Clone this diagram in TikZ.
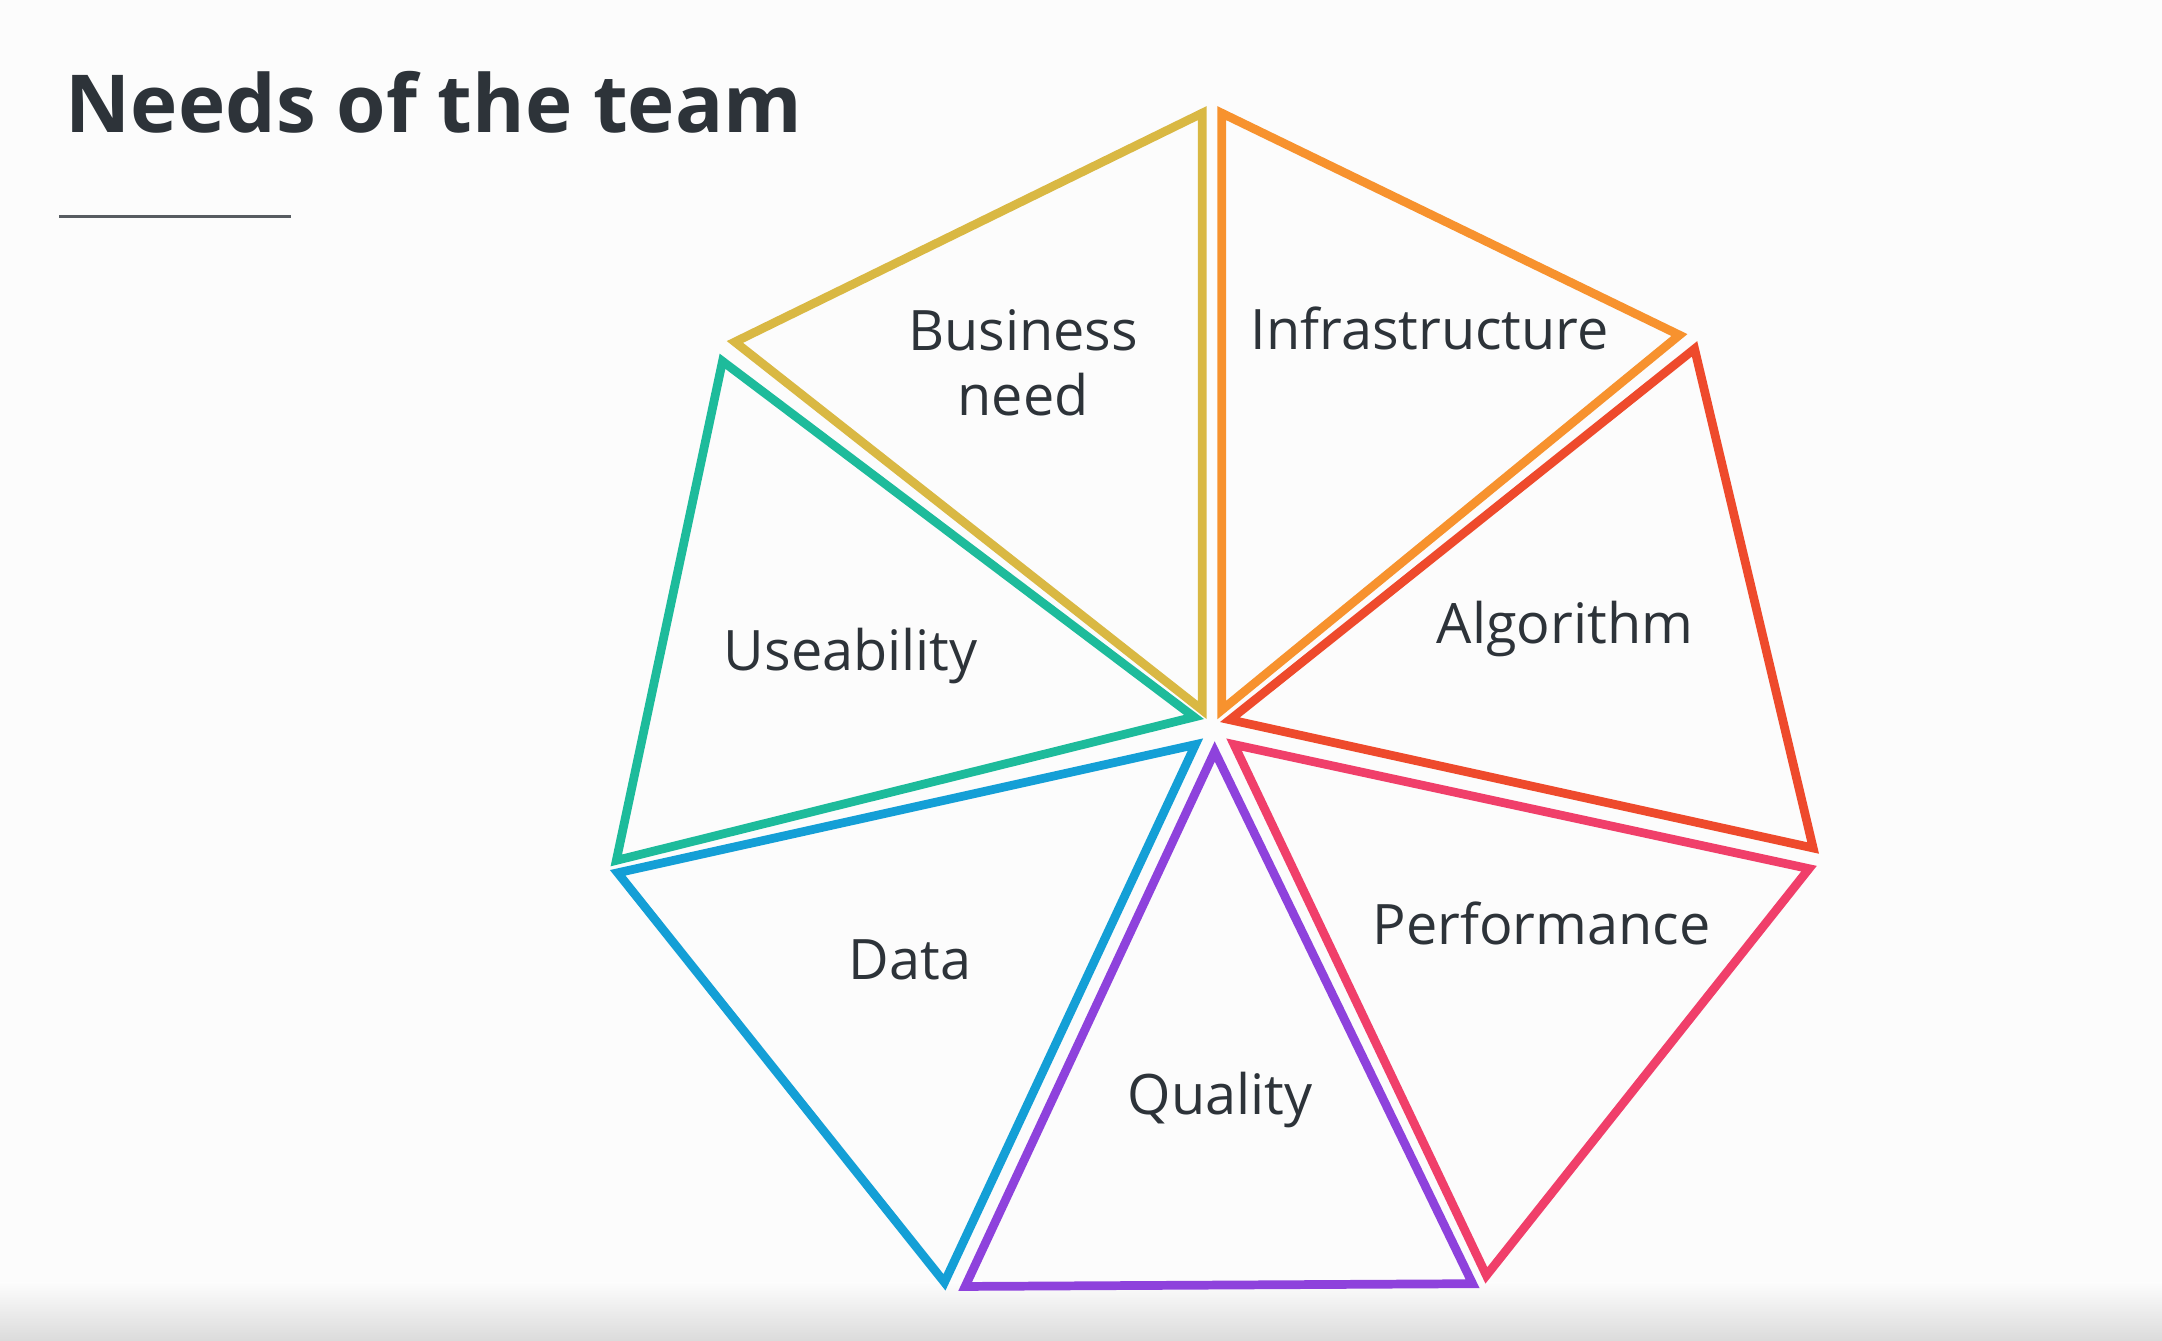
\documentclass[tikz,border=0pt]{standalone}
\usepackage{fontspec}
\setmainfont{Open Sans}
\begin{document}
\begin{tikzpicture}[x=0.01cm,y=-0.01cm,
  wedge/.style={line width=1.8pt,line join=miter},
  lbl/.style={text=inkgray,font=\fontsize{11.5}{13.4}\selectfont,align=center,inner sep=0pt}]
\definecolor{inkgray}{HTML}{2D3339}
\definecolor{cBiz}{HTML}{D9B843}
\definecolor{cInf}{HTML}{F7922E}
\definecolor{cAlg}{HTML}{EE4A2C}
\definecolor{cPerf}{HTML}{F03F6A}
\definecolor{cQual}{HTML}{8E42DC}
\definecolor{cData}{HTML}{149FD6}
\definecolor{cUse}{HTML}{1DBB9B}
% canvas
\fill[white!98!gray] (0,0) rectangle (1568,972);
\shade[top color=white!98!gray,bottom color=black!14] (0,930) rectangle (1568,972);
\useasboundingbox (0,0) rectangle (1568,972);
% heading
\node[anchor=base west,inner sep=0pt,text=inkgray,font=\fontsize{16.5}{20}\bfseries] (title) at (47,96) {Needs of the team};
\draw[inkgray!80,line width=0.6pt] (43,157) coordinate (ruleL) -- (211,157) coordinate (ruleR);
% seven wedges around the centre
\draw[wedge,cBiz]  (533,248) -- (872,82)  -- (872,515) -- cycle;
\draw[wedge,cInf]  (886,82)  -- (1218,243) -- (886,515) -- cycle;
\draw[wedge,cAlg]  (1229,253) -- (1315,615) -- (892,522) -- cycle;
\draw[wedge,cPerf] (1312,630) -- (1078,925) -- (895,540) -- cycle;
\draw[wedge,cQual] (881,545) -- (1068,931) -- (700,933) -- cycle;
\draw[wedge,cData] (867,540) -- (685,930) -- (448,633) -- cycle;
\draw[wedge,cUse]  (866,520) -- (447,624) -- (524,262) -- cycle;
% labels
\node[lbl] (biz)  at (742,263) {Business\\need};
\node[lbl] (inf)  at (1037,238) {Infrastructure};
\node[lbl] (alg)  at (1135,456) {Algorithm};
\node[lbl] (use)  at (617,476) {Useability};
\node[lbl] (perf) at (1118,670) {Performance};
\node[lbl] (data) at (660,696) {Data};
\node[lbl] (qual) at (885,798) {Quality};
\end{tikzpicture}
\end{document}
